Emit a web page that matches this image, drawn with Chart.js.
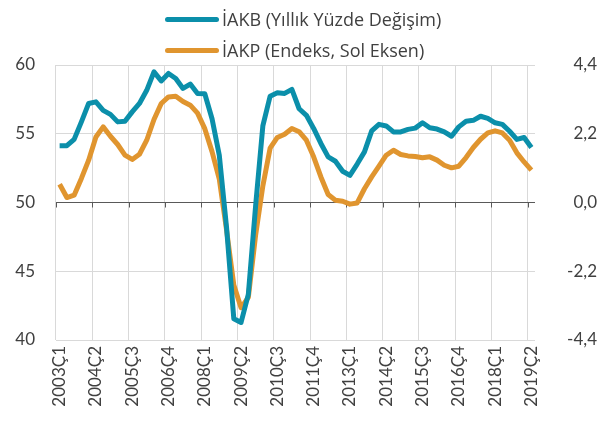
<!DOCTYPE html>
<html>
<head>
<meta charset="utf-8">
<script src="https://cdn.jsdelivr.net/npm/chart.js@4.4.1/dist/chart.umd.min.js"></script>
<style>
  html, body { margin: 0; padding: 0; background: #ffffff; }
  #wrap { position: relative; width: 597px; height: 430px; }
  #c { position: absolute; left: 0; top: 0; }
  .leg { position: absolute; left: 165px; height: 24px; display: flex; align-items: center;
         font-family: "Open Sans", Lato, sans-serif; font-size: 18px; color: #404040; white-space: nowrap; }
  .leg .sw { width: 54px; height: 5px; border-radius: 3px; margin-right: 3px; }
</style>
</head>
<body>
<div id="wrap">
  <canvas id="c" width="597" height="430"></canvas>
  <div class="leg" id="leg1" style="top:7px"><span class="sw" id="sw1"></span><span id="t1"></span></div>
  <div class="leg" id="leg2" style="top:38px"><span class="sw" id="sw2"></span><span id="t2"></span></div>
</div>
<script>
// Quarterly categories 2003Ç1 .. 2019Ç2
const years = [2003,2004,2005,2006,2007,2008,2009,2010,2011,2012,2013,2014,2015,2016,2017,2018,2019];
const categories = [];
years.forEach(y => { for (let q = 1; q <= 4; q++) { if (y === 2019 && q > 2) break; categories.push(y + 'Ç' + q); } });

const seriesNames = ['İAKB (Yıllık Yüzde Değişim)', 'İAKP (Endeks, Sol Eksen)'];

// İAKB – right axis (annual % change)
const iakb = [
  1.82, 1.82, 2.02, 2.58, 3.17, 3.22, 2.95, 2.82, 2.58, 2.60,
  2.90, 3.17, 3.59, 4.18, 3.89, 4.13, 3.97, 3.65, 3.79, 3.49,
  3.48, 2.68, 1.51, -0.80, -3.72, -3.84, -2.94, -0.12, 2.45, 3.40,
  3.51, 3.49, 3.62, 3.00, 2.79, 2.37, 1.89, 1.46, 1.32, 1.00,
  0.87, 1.23, 1.62, 2.29, 2.50, 2.45, 2.26, 2.26, 2.34, 2.38,
  2.55, 2.39, 2.35, 2.26, 2.12, 2.42, 2.60, 2.63, 2.76, 2.69,
  2.55, 2.50, 2.28, 2.02, 2.08, 1.76
];
// İAKP – left axis (index)
const iakp = [
  51.33, 50.36, 50.53, 51.75, 53.08, 54.77, 55.50, 54.82, 54.22, 53.44,
  53.13, 53.51, 54.53, 56.04, 57.20, 57.68, 57.73, 57.35, 57.08, 56.50,
  55.37, 53.70, 51.70, 48.00, 44.00, 42.35, 43.10, 47.60, 51.20, 53.95,
  54.73, 54.97, 55.38, 55.15, 54.53, 53.32, 51.86, 50.58, 50.17, 50.09,
  49.88, 49.97, 51.00, 51.86, 52.64, 53.44, 53.80, 53.49, 53.39, 53.35,
  53.25, 53.32, 53.08, 52.71, 52.52, 52.64, 53.27, 54.00, 54.60, 55.06,
  55.21, 55.06, 54.53, 53.61, 52.95, 52.35
];

const leftTicks = [40, 45, 50, 55, 60];
const rightTicks = [-4.4, -2.2, 0, 2.2, 4.4];
const labelEvery = 5;

const tealColor = '#0B8FAA';
const orangeColor = '#E0952F';
const textColor = '#404040';
const gridColor = '#d9d9d9';
const axisColor = '#595959';
const fontFamily = 'Lato, "Open Sans", sans-serif';

document.getElementById('t1').textContent = seriesNames[0];
document.getElementById('t2').textContent = seriesNames[1];
document.getElementById('sw1').style.background = tealColor;
document.getElementById('sw2').style.background = orangeColor;

const crossTicks = {
  id: 'crossTicks',
  beforeDatasetsDraw(chart) {
    const x = chart.scales.x, y = chart.scales.y;
    const ctx = chart.ctx;
    const y0 = y.getPixelForValue(50);
    const half = (x.getPixelForValue(1) - x.getPixelForValue(0)) / 2;
    ctx.save();
    ctx.strokeStyle = axisColor;
    ctx.lineWidth = 1;
    ctx.beginPath();
    for (let i = 0; i < categories.length; i += labelEvery) {
      const px = Math.round(x.getPixelForValue(i) - half) + 0.5;
      ctx.moveTo(px, y0);
      ctx.lineTo(px, y0 + 5);
    }
    ctx.stroke();
    ctx.restore();
  }
};

new Chart(document.getElementById('c'), {
  type: 'line',
  data: {
    labels: categories,
    datasets: [
      { label: seriesNames[0], data: iakb, yAxisID: 'y1', borderColor: tealColor, backgroundColor: tealColor,
        borderWidth: 5, pointRadius: 0, tension: 0, borderJoinStyle: 'round', borderCapStyle: 'butt' },
      { label: seriesNames[1], data: iakp, yAxisID: 'y', borderColor: orangeColor, backgroundColor: orangeColor,
        borderWidth: 5, pointRadius: 0, tension: 0, borderJoinStyle: 'round', borderCapStyle: 'butt' }
    ]
  },
  options: {
    responsive: false,
    animation: false,
    devicePixelRatio: 1,
    layout: { padding: { top: 65, left: 0, right: 0, bottom: 0 } },
    plugins: { legend: { display: false }, tooltip: { enabled: false } },
    scales: {
      x: {
        type: 'category',
        offset: true,
        border: { display: false },
        grid: {
          offset: true,
          drawTicks: false,
          lineWidth: 1,
          color: (c) => (c.index % labelEvery === 0 && c.index < categories.length) ? gridColor : 'rgba(0,0,0,0)'
        },
        ticks: {
          autoSkip: false,
          minRotation: 90,
          maxRotation: 90,
          padding: 6,
          color: textColor,
          font: { family: fontFamily, size: 17 },
          callback: (v, i) => (i % labelEvery === 0 ? categories[i] : '')
        },
        afterFit: (s) => { s.height = 90; }
      },
      y: {
        position: 'left',
        min: 40, max: 60,
        border: { display: false },
        grid: {
          drawTicks: false,
          lineWidth: 1,
          color: (c) => (c.tick && c.tick.value === 50) ? axisColor : gridColor
        },
        afterBuildTicks: (s) => { s.ticks = leftTicks.map(v => ({ value: v })); },
        ticks: { padding: 21, color: textColor, font: { family: fontFamily, size: 17 } },
        afterFit: (s) => { s.width = 56; }
      },
      y1: {
        position: 'right',
        min: -4.4, max: 4.4,
        border: { display: false },
        grid: { display: false, drawTicks: false },
        afterBuildTicks: (s) => { s.ticks = rightTicks.map(v => ({ value: v })); },
        ticks: {
          padding: 12,
          crossAlign: 'far',
          color: textColor,
          font: { family: fontFamily, size: 17 },
          callback: (v) => Number(v).toFixed(1).replace('.', ',')
        },
        afterFit: (s) => { s.width = 62; }
      }
    }
  },
  plugins: [crossTicks]
});
</script>
</body>
</html>
